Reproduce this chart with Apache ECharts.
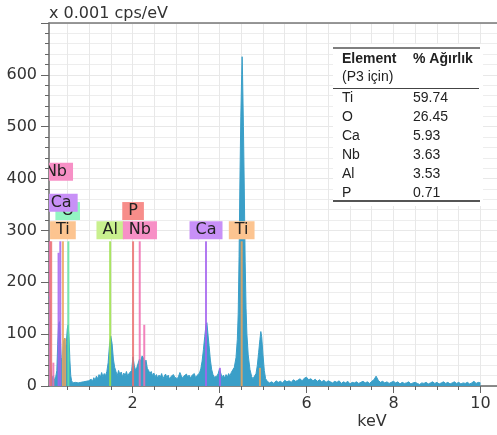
<!DOCTYPE html>
<html>
<head>
<meta charset="utf-8">
<script src="https://cdn.jsdelivr.net/npm/echarts@6/dist/echarts.min.js"></script>
<style>html,body{margin:0;padding:0;background:#fff}#c{width:497px;height:435px}</style>
</head>
<body>
<div id="c"></div>
<script>
// ---- DATA ----
const energyKeV = [
  0.08,0.10,0.12,0.14,0.16,0.18,0.20,0.22,0.24,0.26,
  0.28,0.30,0.32,0.34,0.36,0.38,0.40,0.42,0.44,0.46,
  0.48,0.50,0.52,0.54,0.56,0.58,0.60,0.63,0.66,0.69,
  0.72,0.75,0.78,0.81,0.84,0.87,0.90,0.93,0.96,0.99,
  1.02,1.05,1.08,1.11,1.14,1.17,1.20,1.23,1.26,1.29,
  1.32,1.35,1.38,1.41,1.44,1.47,1.50,1.53,1.56,1.59,
  1.62,1.65,1.68,1.71,1.74,1.77,1.80,1.83,1.86,1.89,
  1.92,1.95,1.98,2.01,2.04,2.07,2.10,2.13,2.16,2.19,
  2.22,2.25,2.28,2.31,2.34,2.37,2.40,2.43,2.46,2.49,
  2.52,2.55,2.58,2.61,2.64,2.67,2.70,2.73,2.76,2.79,
  2.82,2.85,2.88,2.91,2.94,2.97,3.00,3.03,3.06,3.09,
  3.12,3.15,3.18,3.21,3.24,3.27,3.30,3.33,3.36,3.39,
  3.42,3.45,3.48,3.51,3.54,3.57,3.60,3.63,3.66,3.69,
  3.71,3.73,3.76,3.79,3.82,3.85,3.88,3.91,3.94,3.97,
  4.00,4.03,4.06,4.09,4.12,4.15,4.18,4.21,4.24,4.27,
  4.30,4.34,4.38,4.41,4.43,4.45,4.47,4.49,4.51,4.52,
  4.53,4.55,4.57,4.59,4.61,4.63,4.66,4.70,4.74,4.77,
  4.80,4.84,4.87,4.90,4.93,4.95,4.97,5.00,5.03,5.06,
  5.10,5.15,5.20,5.25,5.30,5.35,5.40,5.45,5.50,5.55,
  5.60,5.65,5.70,5.75,5.80,5.85,5.90,5.95,6.00,6.05,
  6.10,6.15,6.20,6.25,6.30,6.35,6.40,6.45,6.50,6.55,
  6.60,6.65,6.70,6.75,6.80,6.85,6.90,6.95,7.00,7.05,
  7.10,7.15,7.20,7.25,7.30,7.35,7.40,7.45,7.50,7.55,
  7.60,7.65,7.70,7.75,7.80,7.85,7.90,7.95,8.00,8.05,
  8.10,8.15,8.20,8.25,8.30,8.35,8.40,8.45,8.50,8.55,
  8.60,8.65,8.70,8.75,8.80,8.85,8.90,8.95,9.00,9.05,
  9.10,9.15,9.20,9.25,9.30,9.35,9.40,9.45,9.50,9.55,
  9.60,9.65,9.70,9.75,9.80,9.85,9.90,9.95,10.00
];
const counts = [
  172,165,40,15,12,20,14,10,12,30,
  80,118,124,95,55,50,70,88,92,70,
  85,110,118,95,50,20,10,6,4,7,
  4,6,3,7,5,8,5,9,6,10,
  8,13,9,16,11,19,14,22,17,26,
  18,24,20,28,45,78,96,82,52,36,
  28,20,30,22,27,18,25,20,28,19,
  24,21,30,56,40,30,36,44,52,48,
  58,54,46,50,34,30,24,28,20,25,
  18,22,15,21,17,24,14,19,23,16,
  21,13,18,15,22,17,20,14,19,26,
  20,15,19,16,23,17,21,15,20,18,
  24,16,20,17,25,33,48,70,95,118,
  122,104,78,50,32,22,17,14,19,24,
  33,30,16,21,15,22,17,24,19,26,
  25,36,55,90,140,250,400,520,600,635,
  600,500,380,240,150,100,60,32,18,14,
  17,24,40,65,90,105,95,60,30,14,
  9,6,8,5,10,7,9,6,11,8,
  10,7,12,9,11,14,10,15,17,12,
  14,10,13,9,12,8,11,7,10,8,
  6,9,7,10,5,8,6,9,4,7,
  6,8,5,7,9,6,8,5,9,12,
  19,11,7,9,6,8,5,7,9,6,
  8,4,7,5,6,8,4,6,7,5,
  3,6,5,7,4,6,8,5,7,4,
  6,8,5,7,4,6,8,5,7,4,
  6,5,7,4,6,9,5,7,6
];

// element marker lines
const markerElement = ['Nb','P','Nb','Ca','Ca','Ti','Ti','O','Al','P','Nb','Nb','Ca','Ca','Ti','Ti'];
const markerKeV     = [0.10,0.13,0.18,0.30,0.34,0.40,0.45,0.525,1.486,2.013,2.166,2.27,3.69,4.01,4.51,4.93];
const markerHeight  = [279,279,45,257,279,279,92,279,279,279,279,118,279,35,279,35];

// element labels (drawn in this order)
const labelElement = ['O','Ca','Ti','Nb','Al','P','Nb','Ca','Ti'];
const labelKeV     = [0.51,0.36,0.40,0.24,1.486,2.013,2.17,3.69,4.51];

// table
const tableElements = ['Ti','O','Ca','Nb','Al','P'];
const tableWeights  = ['59.74','26.45','5.93','3.63','3.53','0.71'];

const xLabelValues = [2,4,6,8,10];
const yTickLabels = ['0','100','200','300','400','500','600'];

// ---- LAYOUT / STYLE ----
const labelLevel = [320,336,283,396,283,320,283,283,283];
const elColors = {
  Ti:{box:'#fcc490', line:'#eda35a'},
  O: {box:'#93f5c3', line:'#5fe3a0'},
  Ca:{box:'#c890f7', line:'#a462ee'},
  Nb:{box:'#f790c6', line:'#ee6fb0'},
  Al:{box:'#c9f08e', line:'#9ae046'},
  P: {box:'#f78d8a', line:'#ec6d6d'}
};
const FONT = 'DejaVu Sans';
const halfTicks = [];
for (let v = 0.5; v <= 10.001; v += 0.5) halfTicks.push(+v.toFixed(1));

const chart = echarts.init(document.getElementById('c'), null, {renderer:'canvas'});

const tableGraphics = [];
const TX = 333, TY = 44;
tableGraphics.push({type:'rect', shape:{x:TX, y:TY, width:150, height:162}, style:{fill:'#fff'}, z:100});
tableGraphics.push({type:'line', shape:{x1:TX, y1:48, x2:480, y2:48}, style:{stroke:'#555', lineWidth:1.5}, z:101});
tableGraphics.push({type:'line', shape:{x1:TX, y1:88.5, x2:479, y2:88.5}, style:{stroke:'#444', lineWidth:1}, z:101});
tableGraphics.push({type:'line', shape:{x1:TX, y1:201, x2:480, y2:201}, style:{stroke:'#555', lineWidth:2}, z:101});
const tFont = '14px "Liberation Sans"';
tableGraphics.push({type:'text', x:342, y:59, style:{text:'Element', font:'bold '+tFont, fill:'#222', verticalAlign:'middle'}, z:102});
tableGraphics.push({type:'text', x:413, y:59, style:{text:'% Ağırlık', font:'bold '+tFont, fill:'#222', verticalAlign:'middle'}, z:102});
tableGraphics.push({type:'text', x:342, y:77.5, style:{text:'(P3 için)', font:tFont, fill:'#222', verticalAlign:'middle'}, z:102});
tableElements.forEach((el, i) => {
  const y = 98.5 + i * 19;
  tableGraphics.push({type:'text', x:342, y:y, style:{text:el, font:tFont, fill:'#222', verticalAlign:'middle'}, z:102});
  tableGraphics.push({type:'text', x:413, y:y, style:{text:tableWeights[i], font:tFont, fill:'#222', verticalAlign:'middle'}, z:102});
});

const option = {
  animation:false,
  grid:{left:49, right:0, top:23, bottom:49, containLabel:false, outerBoundsMode:'none'},
  xAxis:[
    {type:'value', min:0.08, max:10.38,
     axisLine:{show:true, lineStyle:{color:'#666', width:1.5}},
     axisTick:{show:true, customValues:halfTicks, length:4, lineStyle:{color:'#666'}},
     axisLabel:{show:true, customValues:xLabelValues, fontSize:16, fontFamily:FONT, color:'#333', margin:10},
     splitLine:{show:true, lineStyle:{color:'#e8e8e8', width:1}}},
    {type:'value', min:0.08, max:10.38, position:'bottom', gridIndex:0,
     axisLine:{show:false}, axisTick:{show:true, customValues:xLabelValues, length:7, lineStyle:{color:'#666'}},
     axisLabel:{show:false}, splitLine:{show:false}},
    {type:'value', min:0.08, max:10.38, position:'top', gridIndex:0,
     axisLine:{show:true, lineStyle:{color:'#777', width:1.5}}, axisTick:{show:false},
     axisLabel:{show:false}, splitLine:{show:false}}
  ],
  yAxis:{type:'value', min:0, max:700, interval:100,
    axisLine:{show:true, lineStyle:{color:'#666', width:1.5}},
    axisTick:{show:true, length:8, lineStyle:{color:'#666'}},
    minorTick:{show:true, splitNumber:5, length:4, lineStyle:{color:'#666'}},
    axisLabel:{fontSize:16, fontFamily:FONT, color:'#333', margin:12, showMaxLabel:false,
      formatter:(v)=> yTickLabels[Math.round(v/100)] !== undefined ? yTickLabels[Math.round(v/100)] : ''},
    splitLine:{show:true, lineStyle:{color:'#e8e8e8'}},
    minorSplitLine:{show:true, lineStyle:{color:'#ededed'}}
  },
  series:[
    {type:'line', data: energyKeV.map((e,i)=>[e, counts[i]]), showSymbol:false, symbol:'none',
     lineStyle:{width:1, color:'#3a9fc8'}, areaStyle:{color:'#3a9fc8', opacity:1}, z:2, silent:true},
    {type:'custom', clip:true, z:3, silent:true,
     data: markerKeV.map((e,i)=>[e, markerHeight[i], i]),
     renderItem:(params, api)=>{
       const i = api.value(2);
       const p0 = api.coord([api.value(0), 0]);
       const p1 = api.coord([api.value(0), api.value(1)]);
       return {type:'line', shape:{x1:p0[0], y1:p0[1], x2:p1[0], y2:p1[1]},
         style:{stroke:elColors[markerElement[i]].line, lineWidth:2, opacity:0.85}};
     }},
    {type:'custom', clip:true, z:4, silent:true,
     data: labelKeV.map((e,i)=>[e, labelLevel[i], i]),
     renderItem:(params, api)=>{
       const i = api.value(2);
       const p = api.coord([api.value(0), api.value(1)]);
       const el = labelElement[i];
       return {type:'text', x:p[0], y:p[1], z2:i,
         style:{text:el, font:'16px "'+FONT+'"', fill:'#222', align:'center', verticalAlign:'bottom',
           backgroundColor:elColors[el].box, padding:[1,6,1,6]}};
     }}
  ],
  graphic:[
    {type:'text', left:49, top:6, style:{text:'x 0.001 cps/eV', font:'16px "'+FONT+'"', fill:'#333'}},
    {type:'text', x:372, y:422, style:{text:'keV', font:'16px "'+FONT+'"', fill:'#333', align:'center', verticalAlign:'middle'}},
    ...tableGraphics
  ]
};
chart.setOption(option);
</script>
</body>
</html>
